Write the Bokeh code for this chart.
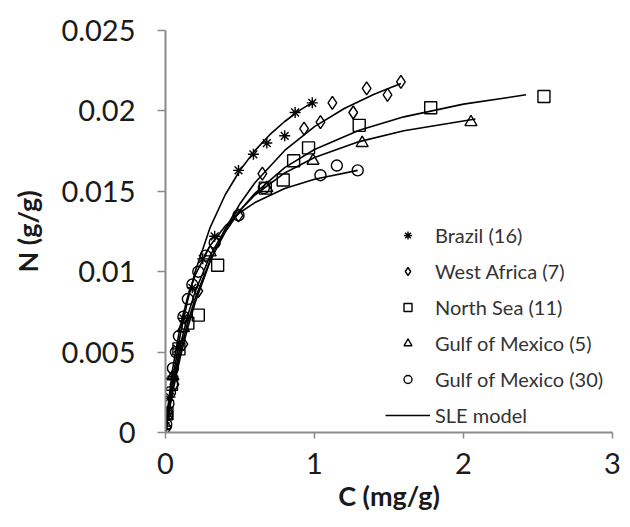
from bokeh.plotting import figure
from bokeh.models import Range1d, FixedTicker, Legend, LegendItem
from bokeh.embed import file_html
from bokeh.resources import INLINE

# ---- axis ticks ----
x_ticks = [0, 1, 2, 3]
x_tick_labels = ["0", "1", "2", "3"]
y_ticks = [0, 0.005, 0.01, 0.015, 0.02, 0.025]
y_tick_labels = ["0", "0.005", "0.01", "0.015", "0.02", "0.025"]

# ---- measured points ----
brazil_label = "Brazil (16)"
brazil_c = [0.0, 0.01, 0.03, 0.05, 0.08, 0.12, 0.18, 0.25, 0.33, 0.49, 0.59, 0.68, 0.80, 0.87, 0.985]
brazil_n = [0.0004, 0.0010, 0.0022, 0.0035, 0.0052, 0.0071, 0.0090, 0.0108, 0.0122, 0.0163, 0.0173, 0.0180, 0.01845, 0.0199, 0.0205]

wafrica_label = "West Africa (7)"
wafrica_c = [0.01, 0.02, 0.06, 0.12, 0.22, 0.49, 0.65, 0.93, 1.04, 1.12, 1.26, 1.35, 1.49, 1.58]
wafrica_n = [0.0003, 0.0013, 0.0030, 0.0055, 0.0088, 0.0135, 0.0161, 0.0189, 0.0193, 0.0205, 0.0199, 0.0214, 0.0210, 0.0218]

nsea_label = "North Sea (11)"
nsea_c = [0.01, 0.04, 0.09, 0.15, 0.22, 0.35, 0.67, 0.79, 0.86, 0.96, 1.30, 1.78, 2.54]
nsea_n = [0.0012, 0.0030, 0.0052, 0.0068, 0.0073, 0.0104, 0.0152, 0.0157, 0.0169, 0.0177, 0.0191, 0.0202, 0.0209]

gom5_label = "Gulf of Mexico (5)"
gom5_c = [0.01, 0.05, 0.12, 0.30, 0.68, 0.99, 1.32, 2.05]
gom5_n = [0.0010, 0.0035, 0.0065, 0.0112, 0.0152, 0.0169, 0.0180, 0.0193]

gom30_label = "Gulf of Mexico (30)"
gom30_c = [0.005, 0.01, 0.02, 0.03, 0.05, 0.07, 0.09, 0.12, 0.15, 0.18, 0.22, 0.27, 0.33, 0.49, 0.66, 1.04, 1.15, 1.29]
gom30_n = [0.0005, 0.0011, 0.0018, 0.0025, 0.0040, 0.0050, 0.0060, 0.0072, 0.0083, 0.0092, 0.0100, 0.0110, 0.0118, 0.0135, 0.0152, 0.0160, 0.0166, 0.0163]

# ---- SLE model curves ----
model_label = "SLE model"
brazil_fit_c = [0, 0.02, 0.05, 0.1, 0.15, 0.2, 0.3, 0.4, 0.5, 0.6, 0.7, 0.8, 0.9, 1.0]
brazil_fit_n = [0, 0.00148, 0.00343, 0.00611, 0.00826, 0.01003, 0.01276, 0.01477, 0.01631, 0.01753, 0.01852, 0.01934, 0.02003, 0.02061]

wafrica_fit_c = [0, 0.02, 0.05, 0.1, 0.15, 0.2, 0.3, 0.4, 0.5, 0.6, 0.8, 1.0, 1.2, 1.4, 1.58]
wafrica_fit_n = [0, 0.00109, 0.00257, 0.00472, 0.00654, 0.0081, 0.01065, 0.01264, 0.01423, 0.01553, 0.01754, 0.01902, 0.02015, 0.02104, 0.0217]

nsea_fit_c = [0, 0.02, 0.05, 0.1, 0.15, 0.2, 0.3, 0.4, 0.5, 0.6, 0.8, 1.0, 1.3, 1.6, 2.0, 2.42]
nsea_fit_n = [0, 0.00121, 0.00282, 0.00505, 0.00687, 0.00837, 0.01071, 0.01245, 0.0138, 0.01487, 0.01647, 0.0176, 0.0188, 0.01963, 0.02042, 0.0210]

gom5_fit_c = [0, 0.02, 0.05, 0.1, 0.15, 0.2, 0.3, 0.4, 0.5, 0.6, 0.8, 1.0, 1.3, 1.6, 2.08]
gom5_fit_n = [0, 0.00136, 0.00311, 0.00546, 0.0073, 0.00878, 0.01101, 0.01262, 0.01382, 0.01477, 0.01614, 0.0171, 0.01809, 0.01877, 0.0195]

gom30_fit_c = [0, 0.02, 0.05, 0.1, 0.15, 0.2, 0.3, 0.4, 0.5, 0.6, 0.8, 1.0, 1.29]
gom30_fit_n = [0, 0.00187, 0.00406, 0.00666, 0.00847, 0.0098, 0.01163, 0.01283, 0.01368, 0.0143, 0.01517, 0.01575, 0.0163]

FONT = "Lato"

p = figure(width=630, height=527, output_backend="svg", toolbar_location=None,
           x_range=Range1d(0, 3), y_range=Range1d(0, 0.025),
           min_border_left=165, min_border_right=18, min_border_top=30, min_border_bottom=95)
p.outline_line_color = None
p.xgrid.visible = False
p.ygrid.visible = False
p.background_fill_color = "white"
p.border_fill_color = "white"

for ax in (p.xaxis[0], p.yaxis[0]):
    ax.axis_line_color = "#8a8a8a"
    ax.axis_line_width = 2
    ax.major_tick_line_color = "#8a8a8a"
    ax.major_tick_line_width = 1.5
    ax.minor_tick_line_color = None
    ax.major_tick_in = 0
    ax.major_label_text_font = FONT
    ax.major_label_text_font_size = "29px"
    ax.major_label_text_color = "#1a1a1a"
    ax.axis_label_text_font = FONT
    ax.axis_label_text_font_style = "bold"
    ax.axis_label_text_font_size = "27px"
    ax.axis_label_text_color = "#1a1a1a"

p.xaxis.ticker = FixedTicker(ticks=x_ticks)
p.xaxis.major_label_overrides = {t: l for t, l in zip(x_ticks, x_tick_labels)}
p.yaxis.ticker = FixedTicker(ticks=y_ticks)
p.yaxis.major_label_overrides = {t: l for t, l in zip(y_ticks, y_tick_labels)}
p.xaxis.major_tick_out = 6
p.yaxis.major_tick_out = 8
p.xaxis.major_label_standoff = 14
p.yaxis.major_label_standoff = 22
p.xaxis.axis_label = "C (mg/g)"
p.yaxis.axis_label = "N (g/g)"
p.xaxis.axis_label_standoff = 2
p.yaxis.axis_label_standoff = 14

lines = []
for c, n in [(brazil_fit_c, brazil_fit_n), (wafrica_fit_c, wafrica_fit_n), (nsea_fit_c, nsea_fit_n),
             (gom5_fit_c, gom5_fit_n), (gom30_fit_c, gom30_fit_n)]:
    lines.append(p.line(c, n, line_color="black", line_width=1.6))

common = dict(line_color="black", fill_color=None, line_width=1.4)
r_br = p.scatter(brazil_c, brazil_n, marker="asterisk", size=11, **common)
r_wa = p.scatter(wafrica_c, wafrica_n, marker="diamond", size=13, **common)
r_ns = p.scatter(nsea_c, nsea_n, marker="square", size=12, **common)
r_g5 = p.scatter(gom5_c, gom5_n, marker="triangle", size=12, **common)
r_g30 = p.scatter(gom30_c, gom30_n, marker="circle", size=11, **common)

legend = Legend(items=[
    LegendItem(label=brazil_label, renderers=[r_br]),
    LegendItem(label=wafrica_label, renderers=[r_wa]),
    LegendItem(label=nsea_label, renderers=[r_ns]),
    LegendItem(label=gom5_label, renderers=[r_g5]),
    LegendItem(label=gom30_label, renderers=[r_g30]),
    LegendItem(label=model_label, renderers=[lines[0]]),
], location=(220, 5))
legend.background_fill_alpha = 0
legend.border_line_alpha = 0
legend.padding = 0
legend.margin = 0
legend.glyph_width = 45
legend.glyph_height = 20
legend.label_height = 20
legend.label_standoff = 5
legend.spacing = 12
legend.label_text_font = FONT
legend.label_text_font_size = "20px"
legend.label_text_color = "#333333"
p.add_layout(legend)

open("out.html", "w").write(file_html(p, INLINE))
